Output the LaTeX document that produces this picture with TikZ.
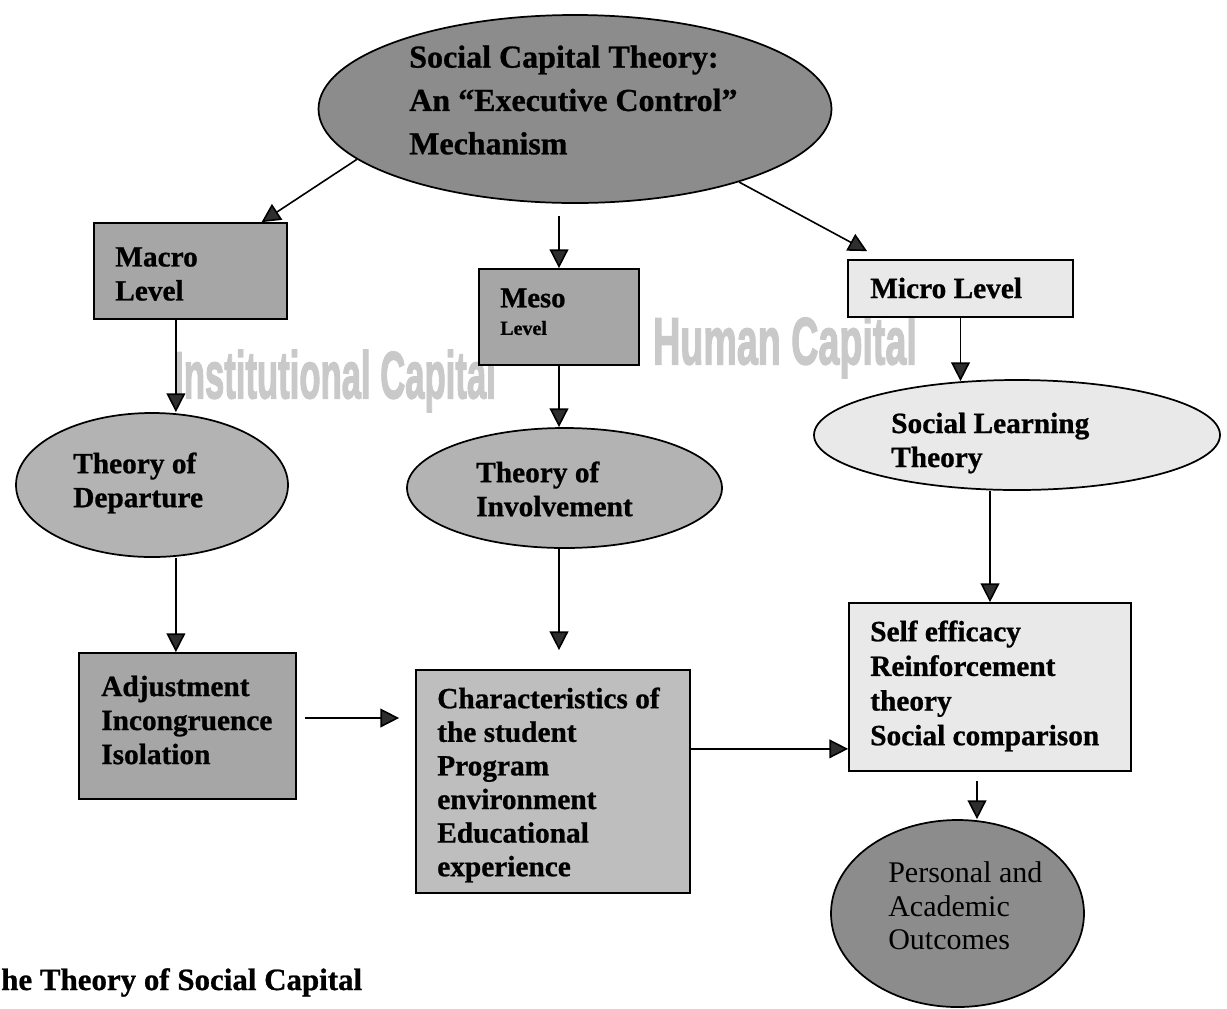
\documentclass[tikz,border=0pt]{standalone}
\usepackage{fontspec}
\usepackage{graphicx}
\setmainfont{Liberation Serif}[BoldFeatures={FakeBold=0.8}]
\newfontfamily\ghostfont{Liberation Sans}[BoldFeatures={FakeBold=2.5}]
\usetikzlibrary{shapes.geometric,arrows.meta,calc}

\definecolor{darkfill}{HTML}{8C8C8C}
\definecolor{midfill}{HTML}{A6A6A6}
\definecolor{ovalfill}{HTML}{B3B3B3}
\definecolor{charfill}{HTML}{BEBEBE}
\definecolor{palefill}{HTML}{E9E9E9}
\definecolor{ghostgray}{HTML}{C9C9C9}
\definecolor{headfill}{HTML}{2E2E2E}

\begin{document}
\begin{tikzpicture}[x=0.75pt,y=-0.75pt,
  box/.style={draw=black,line width=1.3pt,rectangle,inner sep=0pt},
  oval/.style={draw=black,line width=1.3pt,ellipse,inner sep=0pt},
  lbl/.style={anchor=west,align=left,inner sep=0pt,
    font=\bfseries\fontsize{22}{25.5}\selectfont},
  arr/.style={draw=black,line width=1.2pt,
    -{Triangle[length=14pt,width=14pt,fill=headfill]}},
  ghost/.style={text=ghostgray,inner sep=0pt,
    font=\ghostfont\bfseries\fontsize{50}{55}\selectfont}
]
\fill[white] (0,0) rectangle (1227,1008);
\useasboundingbox (0,0) rectangle (1227,1008);

% faint background captions
\node[ghost] (instcap) at (335,381) {\scalebox{0.52}[1]{Institutional Capital}};
\node[ghost] (humcap) at (785,347) {\scalebox{0.565}[1]{Human Capital}};

% shapes
\node[oval,fill=darkfill,minimum width=384.75pt,minimum height=141pt] (top) at (575,109) {};
\node[box,fill=midfill,minimum width=144.75pt,minimum height=72pt] (macro) at (190.5,271) {};
\node[box,fill=midfill,minimum width=120pt,minimum height=72pt] (meso) at (559,317) {};
\node[box,fill=palefill,minimum width=168.75pt,minimum height=42.75pt] (micro) at (960.5,288.5) {};
\node[oval,fill=ovalfill,minimum width=204pt,minimum height=108pt] (dep) at (152,485) {};
\node[oval,fill=ovalfill,minimum width=236.25pt,minimum height=90pt] (inv) at (564.5,488) {};
\node[oval,fill=palefill,minimum width=304.5pt,minimum height=82.5pt] (soc) at (1017,435) {};
\node[box,fill=midfill,minimum width=162.75pt,minimum height=109.5pt] (adj) at (187.5,726) {};
\node[box,fill=charfill,minimum width=205.5pt,minimum height=167.25pt] (char) at (553,781.5) {};
\node[box,fill=palefill,minimum width=211.5pt,minimum height=126pt] (self) at (990,687) {};
\node[oval,fill=darkfill,minimum width=189.75pt,minimum height=140.25pt] (pers) at (957.5,913.5) {};

% labels
\node[lbl,font=\bfseries\fontsize{24}{32.5}\selectfont] (toptxt) at (409,100)
  {Social Capital Theory:\\An “Executive Control”\\Mechanism};
\node[lbl] (macrotxt) at (115,274) {Macro\\Level};
\node[lbl,font=\bfseries\fontsize{21.5}{24}\selectfont] (mesotxt) at (500,298) {Meso};
\node[lbl,font=\bfseries\fontsize{15}{18}\selectfont] (mesolvl) at (500,328) {Level};
\node[lbl] (microtxt) at (870,288) {Micro Level};
\node[lbl] (deptxt) at (73,483) {Theory of\\Departure};
\node[lbl] (invtxt) at (476,489) {Theory of\\Involvement};
\node[lbl] (soctxt) at (891,443) {Social Learning\\Theory};
\node[lbl] (adjtxt) at (101,720) {Adjustment\\Incongruence\\Isolation};
\node[lbl,font=\bfseries\fontsize{22}{25.2}\selectfont] (chartxt) at (437,785)
  {Characteristics of\\the student\\Program\\environment\\Educational\\experience};
\node[lbl,font=\bfseries\fontsize{22}{26}\selectfont] (selftxt) at (870,686)
  {Self efficacy\\Reinforcement\\theory\\Social comparison};
\node[lbl,font=\fontsize{22.5}{25}\selectfont] (perstxt) at (888,906)
  {Personal and\\Academic\\Outcomes};
\node[anchor=base west,inner sep=0pt,font=\bfseries\fontsize{23.2}{27}\selectfont]
  (caption) at (1,990) {he Theory of Social Capital};

% connectors
\draw[arr] (top.193) -- ($(macro.north west)!0.865!(macro.north east)$);
\coordinate (mesoIn) at ($(meso.north)+(0,-52)$);
\draw[arr] (mesoIn) -- (meso.north);
\draw[arr] (top.336) -- ($(micro.north west)+(20,-8)$);

\coordinate (mdA) at ($(macro.south west)!0.425!(macro.south east)$);
\draw[arr] (mdA) -- (mdA |- dep.north);
\draw[arr] (meso.south) -- (meso.south |- inv.north);
\draw[arr] (micro.south) -- ($(micro.south |- soc.north)+(0,2)$);

\draw[arr] (mdA |- dep.south) -- (mdA |- adj.north);
\coordinate (charIn) at ($(meso.south |- char.north)+(0,-19)$);
\draw[arr] (meso.south |- inv.south) -- (charIn);
\draw[arr] (self.north |- soc.south) -- (self.north);

\coordinate (acA) at ($(adj.east)+(8,-8)$);
\coordinate (acB) at ($(char.west |- acA)+(-16,0)$);
\draw[arr] (acA) -- (acB);
\coordinate (csy) at ($(self.south west)+(0,-23)$);
\draw[arr] (char.east |- csy) -- (csy);
\coordinate (spA) at ($(self.south)+(-13,9)$);
\draw[arr] (spA) -- (spA |- pers.north);
\end{tikzpicture}
\end{document}
